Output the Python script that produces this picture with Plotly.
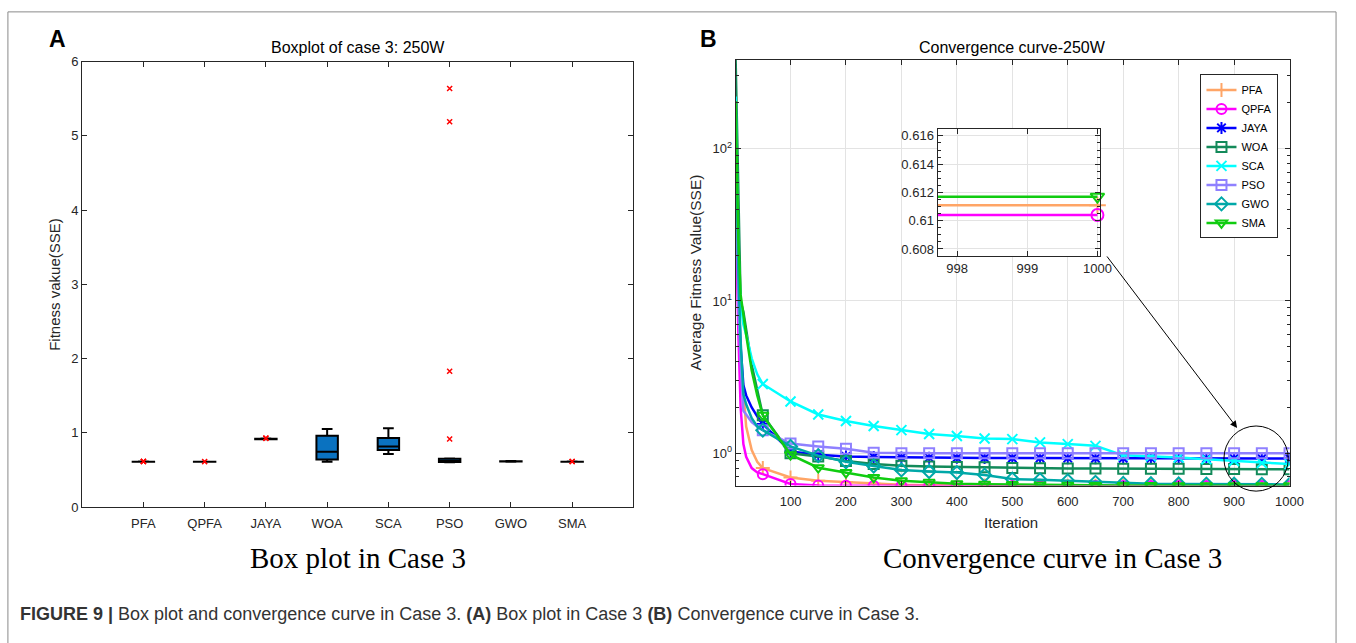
import plotly.graph_objects as go

W, H = 1356, 643

# ---------------- Box plot of case 3 (250 W) ----------------
algorithms = ["PFA", "QPFA", "JAYA", "WOA", "SCA", "PSO", "GWO", "SMA"]
box_lower = [0.6095, 0.6095, 0.912, 0.610, 0.715, 0.605, 0.612, 0.609]
box_q1 = [0.6105, 0.6100, 0.915, 0.640, 0.770, 0.608, 0.614, 0.6105]
box_median = [0.6110, 0.6104, 0.917, 0.746, 0.816, 0.612, 0.616, 0.6112]
box_q3 = [0.6115, 0.6110, 0.920, 0.960, 0.930, 0.652, 0.618, 0.6120]
box_upper = [0.6130, 0.6115, 0.922, 1.050, 1.060, 0.655, 0.620, 0.6130]

outlier_algorithm = ["PFA", "PFA", "PFA", "QPFA", "JAYA", "JAYA",
                     "PSO", "PSO", "PSO", "PSO", "SMA", "SMA"]
outlier_value = [0.6140, 0.6145, 0.6150, 0.6120, 0.9250, 0.9300,
                 0.917, 1.83, 5.19, 5.64, 0.6135, 0.6140]

# ---------------- Convergence curves (average fitness) ----------------
iterations = [1, 3, 6, 10, 15, 20, 30, 40,
              50, 100, 150, 200, 250, 300, 350, 400, 450, 500,
              550, 600, 650, 700, 750, 800, 850, 900, 950, 1000]

pfa_curve = [60, 25, 9, 4.5, 2.4, 1.5, 1.05, 0.88,
             0.80, 0.695, 0.66, 0.645, 0.632, 0.622, 0.617, 0.615, 0.614, 0.613,
             0.6125, 0.612, 0.6118, 0.6116, 0.6115, 0.6114, 0.6113, 0.6112, 0.6111, 0.6111]
qpfa_curve = [40, 15, 6, 2.0, 1.15, 0.95, 0.80, 0.75,
              0.73, 0.63, 0.614, 0.612, 0.6115, 0.611, 0.6108, 0.6107, 0.6106, 0.6105,
              0.6105, 0.6105, 0.6104, 0.6104, 0.6104, 0.6104, 0.6104, 0.6104, 0.6104, 0.6104]
jaya_curve = [120, 40, 12, 5, 2.8, 2.4, 2.0, 1.75,
              1.56, 1.03, 0.98, 0.955, 0.945, 0.94, 0.937, 0.935, 0.933, 0.932,
              0.931, 0.93, 0.929, 0.928, 0.928, 0.927, 0.926, 0.926, 0.925, 0.925]
woa_curve = [383, 150, 40, 10, 8.5, 6.5, 3.8, 2.6,
             1.78, 1.0, 0.955, 0.89, 0.85, 0.83, 0.82, 0.815, 0.81, 0.80,
             0.798, 0.796, 0.795, 0.793, 0.792, 0.791, 0.79, 0.788, 0.787, 0.786]
sca_curve = [220, 70, 20, 10, 7, 6.0, 4.2, 3.3,
             2.85, 2.19, 1.80, 1.63, 1.51, 1.42, 1.34, 1.30, 1.25, 1.24,
             1.18, 1.15, 1.12, 0.97, 0.955, 0.94, 0.915, 0.89, 0.865, 0.85]
pso_curve = [90, 30, 9, 4, 1.9, 1.8, 1.6, 1.5,
             1.42, 1.16, 1.11, 1.07, 1.01, 1.0, 1.0, 1.0, 1.0, 1.0,
             1.0, 1.0, 1.0, 1.0, 1.0, 1.0, 1.0, 1.0, 1.0, 1.0]
gwo_curve = [150, 50, 15, 5.5, 2.44, 2.1, 1.7, 1.5,
             1.42, 1.11, 0.966, 0.88, 0.826, 0.778, 0.76, 0.748, 0.72, 0.678,
             0.67, 0.66, 0.645, 0.635, 0.632, 0.63, 0.628, 0.627, 0.626, 0.625]
sma_curve = [205, 80, 25, 11, 8, 6, 3.5, 2.4,
             1.78, 0.98, 0.805, 0.748, 0.695, 0.66, 0.645, 0.632, 0.628, 0.624,
             0.62, 0.618, 0.616, 0.615, 0.614, 0.6132, 0.6125, 0.612, 0.6117, 0.6117]

series = [
    ("PFA", pfa_curve, "#FFA566", "cross-thin-open"),
    ("QPFA", qpfa_curve, "#FF00FF", "circle-open"),
    ("JAYA", jaya_curve, "#0000FF", "asterisk-open"),
    ("WOA", woa_curve, "#138A5A", "square-open"),
    ("SCA", sca_curve, "#00FFFF", "x-thin-open"),
    ("PSO", pso_curve, "#8F80FF", "square-open"),
    ("GWO", gwo_curve, "#00A8A8", "diamond-open"),
    ("SMA", sma_curve, "#10CC10", "triangle-down-open"),
]
inset_names = ["PFA", "QPFA", "SMA"]

FONT = "Liberation Sans, Arial, sans-serif"
SERIF = "Liberation Serif, Times New Roman, serif"
AX = "#262626"


def px(x):
    return x / W


def py(y):
    return 1 - y / H


fig = go.Figure()

# boxes
for i, name in enumerate(algorithms):
    fig.add_trace(go.Box(
        x=[i + 1], q1=[box_q1[i]], median=[box_median[i]], q3=[box_q3[i]],
        lowerfence=[box_lower[i]], upperfence=[box_upper[i]],
        orientation="v", width=0.35, whiskerwidth=0.5, boxpoints=False,
        fillcolor="#0A72C0", line=dict(color="black", width=2),
        showlegend=False, hoverinfo="skip", xaxis="x", yaxis="y"))

fig.add_trace(go.Scatter(
    x=[algorithms.index(a) + 1 for a in outlier_algorithm], y=outlier_value,
    mode="markers", marker=dict(symbol="x-thin", size=5, color="red",
                                line=dict(color="red", width=1.5)),
    showlegend=False, hoverinfo="skip", xaxis="x", yaxis="y"))

# convergence curves: early steep part as plain line, then marked part
split = iterations.index(50)
for name, vals, color, sym in series:
    fig.add_trace(go.Scatter(
        x=iterations[:split + 1], y=vals[:split + 1], mode="lines",
        line=dict(color=color, width=2.5), showlegend=False,
        hoverinfo="skip", xaxis="x2", yaxis="y2"))
    fig.add_trace(go.Scatter(
        x=iterations[split:], y=vals[split:], mode="lines+markers", name=name,
        line=dict(color=color, width=2.5),
        marker=dict(symbol=sym, size=10, color=color, line=dict(color=color, width=2)),
        xaxis="x2", yaxis="y2"))

# zoomed view near the last iteration
for name, vals, color, sym in series:
    if name not in inset_names:
        continue
    fig.add_trace(go.Scatter(
        x=iterations[-2:], y=vals[-2:], mode="lines+markers",
        line=dict(color=color, width=2.5),
        marker=dict(symbol=sym, size=12, color=color, line=dict(color=color, width=2)),
        cliponaxis=False, showlegend=False, hoverinfo="skip",
        xaxis="x3", yaxis="y3"))

axis_common = dict(showline=True, linecolor=AX, linewidth=1, mirror="ticks",
                   ticks="inside", tickcolor=AX, ticklen=5, zeroline=False,
                   tickfont=dict(family=FONT, size=13, color=AX))

minor_log = [m * 10 ** e for e in (-1, 0, 1, 2) for m in range(2, 10)
             if 0.61 <= m * 10 ** e <= 383]

fig.update_layout(
    width=W, height=H, margin=dict(l=0, r=0, t=0, b=0),
    paper_bgcolor="white", plot_bgcolor="white",
    font=dict(family=FONT, color=AX),
    xaxis=dict(domain=[px(83), px(640)], range=[0, 9], anchor="y",
               tickvals=list(range(1, 9)), ticktext=algorithms, showgrid=False,
               ticklabelstandoff=4, **axis_common),
    yaxis=dict(domain=[py(512), py(56)], range=[0, 6], anchor="x", dtick=1,
               showgrid=False, **axis_common),
    xaxis2=dict(domain=[px(743.3), px(1303)], range=[1, 1000], anchor="y2",
                tickvals=list(range(100, 1001, 100)), showgrid=True,
                gridcolor="#E3E3E3", gridwidth=1, ticklabelstandoff=4, **axis_common),
    yaxis2=dict(domain=[py(490), py(54)], type="log", range=[-0.2115, 2.583],
                anchor="x2", tickvals=[1, 10, 100],
                ticktext=["10<sup>0</sup>", "10<sup>1</sup>", "10<sup>2</sup>"],
                showgrid=True, gridcolor="#E3E3E3", gridwidth=1,
                minor=dict(tickvals=minor_log, ticks="inside", ticklen=3,
                           tickcolor=AX, showgrid=False),
                **axis_common),
    xaxis3=dict(domain=[px(947.3), px(1111)], range=[997.72, 1000.03], anchor="y3",
                tickvals=[998, 999, 1000], showgrid=True, gridcolor="#E3E3E3",
                **axis_common),
    yaxis3=dict(domain=[py(255), py(124.7)], range=[0.6075, 0.6165], anchor="x3",
                tickvals=[0.608, 0.610, 0.612, 0.614, 0.616],
                ticktext=["0.608", "0.61", "0.612", "0.614", "0.616"],
                showgrid=True, gridcolor="#E3E3E3",
                minor=dict(dtick=0.0005, ticks="inside", ticklen=3, tickcolor=AX,
                           showgrid=False),
                **axis_common),
    legend=dict(x=px(1213), y=py(69), xanchor="left", yanchor="top",
                bgcolor="white", bordercolor=AX, borderwidth=1,
                font=dict(family=FONT, size=11, color="black"),
                itemwidth=30, tracegroupgap=0),
)

ann = []


def text(x, y, s, size, **kw):
    d = dict(x=px(x), y=py(y), xref="paper", yref="paper", text=s, showarrow=False,
             xanchor="center", yanchor="middle",
             font=dict(family=kw.pop("family", FONT), size=size,
                       color=kw.pop("color", "black")))
    d.update(kw)
    ann.append(d)


text(58, 33, "<b>A</b>", 23)
text(716, 33, "<b>B</b>", 23)
text(362, 41, "Boxplot of case 3: 250W", 16)
text(1023, 41, "Convergence curve-250W", 16)
text(55, 284, "Fitness vakue(SSE)", 15, textangle=-90, color=AX)
text(703, 272, "Average Fitness Value(SSE)", 15.5, textangle=-90, color=AX)
text(1022, 528, "Iteration", 15, color=AX)
text(362, 564, "Box plot in Case 3", 29, family=SERIF)
text(1063, 564, "Convergence curve in Case 3", 29, family=SERIF)
text(18, 622, "<b>FIGURE 9 |</b> Box plot and convergence curve in Case 3. "
              "<b>(A)</b> Box plot in Case 3 <b>(B)</b> Convergence curve in Case 3.",
     18, xanchor="left", color="#333333")

# arrow pointing at the zoomed region
ann.append(dict(x=px(1250), y=py(431), xref="paper", yref="paper", text=" ",
                showarrow=True, ax=1118 - 1250, ay=257 - 431, arrowhead=2,
                arrowsize=1.4, arrowwidth=1, arrowcolor="black",
                font=dict(size=2)))

fig.update_layout(annotations=ann, shapes=[
    dict(type="circle", xref="paper", yref="paper", x0=px(1236.7), x1=px(1301.7),
         y0=py(495.7), y1=py(429), line=dict(color="black", width=1)),
    dict(type="rect", xref="paper", yref="paper", x0=px(8), x1=px(1350),
         y0=-0.02, y1=py(5), line=dict(color="#8A8A8A", width=1)),
])

fig.write_html("out.html")
